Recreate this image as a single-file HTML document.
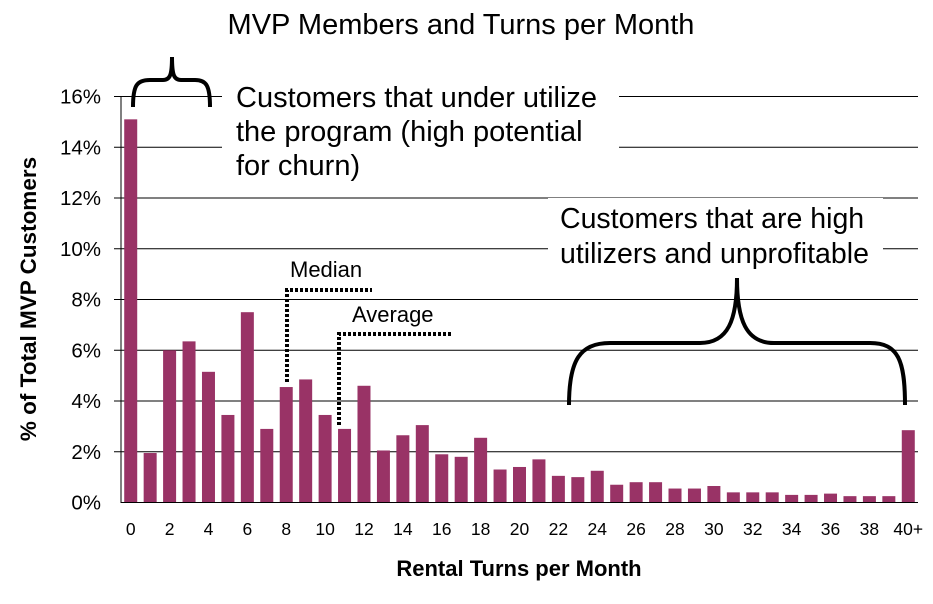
<!DOCTYPE html>
<html><head><meta charset="utf-8"><style>
body{margin:0;background:#fff;}
svg{display:block;font-family:"Liberation Sans",Arial,sans-serif;}
</style></head><body>
<svg id="chart" width="933" height="604">
<text x="461" y="34" font-size="29" text-anchor="middle">MVP Members and Turns per Month</text>
<g id="grid"></g>
<g id="bars"></g>
<g id="xticks"></g>
<g id="yticks"></g>
<line x1="121" y1="96" x2="121" y2="503" stroke="#000"/>
<line x1="121" y1="502.5" x2="918" y2="502.5" stroke="#000"/>
<text transform="translate(36,299) rotate(-90)" font-size="22.5" font-weight="bold" text-anchor="middle">% of Total MVP Customers</text>
<text x="519" y="576" font-size="22" font-weight="bold" text-anchor="middle">Rental Turns per Month</text>
<rect x="222" y="78" width="397" height="110" fill="#fff"/>
<text font-size="29"><tspan x="236" y="107">Customers that under utilize</tspan><tspan x="236" y="141">the program (high potential</tspan><tspan x="236" y="175">for churn)</tspan></text>
<rect x="548" y="198" width="335" height="72" fill="#fff"/>
<text font-size="28.5"><tspan x="560" y="228">Customers that are high</tspan><tspan x="560" y="263">utilizers and unprofitable</tspan></text>
<path d="M133,107 C133,85 137,80 150,80 L163,80 C170,80 172,75 172,57 C172,75 174,80 181,80 L195,80 C206,80 210,85 210,107" fill="none" stroke="#000" stroke-width="4"/>
<path d="M569,405 C569,360 580,343 610,343 L700,343 C728,343 737,320 737,278 C737,320 746,343 774,343 L870,343 C898,343 905,360 905,405" fill="none" stroke="#000" stroke-width="4"/>
<text x="290" y="277" font-size="22">Median</text>
<path d="M287,382 L287,290 L372,290" fill="none" stroke="#000" stroke-width="4" stroke-dasharray="3,2"/>
<text x="352" y="322" font-size="22">Average</text>
<path d="M339,425 L339,334 L452,334" fill="none" stroke="#000" stroke-width="4" stroke-dasharray="3,2"/>
</svg>
<script>
const categories=["0","1","2","3","4","5","6","7","8","9","10","11","12","13","14","15","16","17","18","19","20","21","22","23","24","25","26","27","28","29","30","31","32","33","34","35","36","37","38","39","40+"];
const values=[15.1,1.95,6.0,6.35,5.15,3.45,7.5,2.9,4.55,4.85,3.45,2.9,4.6,2.05,2.65,3.05,1.9,1.8,2.55,1.3,1.4,1.7,1.05,1.0,1.25,0.7,0.8,0.8,0.55,0.55,0.65,0.4,0.4,0.4,0.3,0.3,0.35,0.25,0.25,0.25,2.85];
const yTicks=[0,2,4,6,8,10,12,14,16];
const NS="http://www.w3.org/2000/svg";
const x0=121,x1=918,yBase=502.5,yTop=96.5,yMax=16;
const step=(x1-x0)/categories.length;
function xC(i){return x0+step*(i+0.5);}
function yS(v){return yBase-(v/yMax)*(yBase-yTop);}
const grid=document.getElementById('grid'),bars=document.getElementById('bars'),xt=document.getElementById('xticks'),yt=document.getElementById('yticks');
yTicks.forEach(t=>{
 const y=yS(t);
 if(t>0){const l=document.createElementNS(NS,'line');
 l.setAttribute('x1',114);l.setAttribute('x2',918);l.setAttribute('y1',y);l.setAttribute('y2',y);l.setAttribute('stroke','#000');
 
 
 grid.appendChild(l);}
 const tx=document.createElementNS(NS,'text');
 tx.setAttribute('x',101);tx.setAttribute('y',y+7);tx.setAttribute('font-size','20.5');tx.setAttribute('text-anchor','end');
 tx.textContent=t+'%';
 
 
 yt.appendChild(tx);
});
values.forEach((v,i)=>{
 const r=document.createElementNS(NS,'rect');
 const w=13;
 r.setAttribute('x',xC(i)-w/2);r.setAttribute('width',w);r.setAttribute('y',yS(v));r.setAttribute('height',yBase-yS(v));
 r.setAttribute('fill','#993366');
 
 
 bars.appendChild(r);
 if(i%2===0){
  const tx=document.createElementNS(NS,'text');
  tx.setAttribute('x',xC(i));tx.setAttribute('y',535);tx.setAttribute('font-size','17.5');tx.setAttribute('text-anchor','middle');
  tx.textContent=categories[i];
  
  
  xt.appendChild(tx);
 }
});
</script>
</body></html>
